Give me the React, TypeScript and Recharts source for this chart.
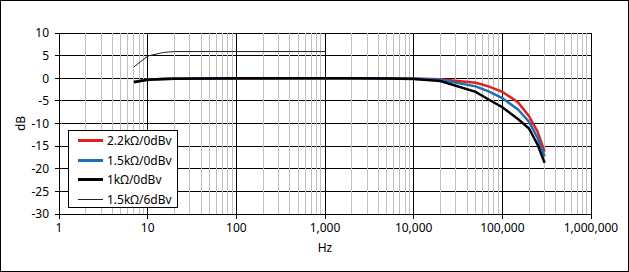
import { LineChart, Line, XAxis, YAxis, CartesianGrid, ReferenceLine, Legend } from "recharts";

const FREQS = [7, 10, 15, 20, 50, 100, 200, 500, 1000, 2000, 5000, 10000, 20000, 50000, 70000, 100000, 150000, 200000, 250000, 300000];

const R22K_0DB = [-0.8, -0.3, -0.15, -0.1, -0.05, -0.1, -0.1, 0, 0, 0, 0, -0.05, -0.2, -1.0, -1.8, -3.0, -5.3, -8.4, -11.8, -16.2];
const R15K_0DB = [-0.8, -0.3, -0.15, -0.1, -0.05, 0, 0, 0, 0, 0, -0.05, -0.1, -0.35, -1.8, -2.9, -4.4, -6.9, -9.6, -13.2, -17.3];
const R1K_0DB = [-0.9, -0.35, -0.15, -0.1, -0.05, 0, 0, 0, 0, 0, -0.05, -0.15, -0.6, -3.0, -4.7, -6.4, -9.0, -11.1, -14.7, -18.7];
const R15K_6DB = [2.5, 4.9, 5.7, 5.9, 5.9, 5.9, 5.9, 5.9, 5.9];

const X_TICKS = [1, 10, 100, 1000, 10000, 100000, 1000000];
const Y_TICKS = [-30, -25, -20, -15, -10, -5, 0, 5, 10];

const SERIES = [
  { key: "r22", name: "2.2kΩ/0dBv", color: "#e0201e", width: 2.5 },
  { key: "r15", name: "1.5kΩ/0dBv", color: "#1f6fb4", width: 2.5 },
  { key: "r1", name: "1kΩ/0dBv", color: "#000000", width: 2.5 },
  { key: "r15six", name: "1.5kΩ/6dBv", color: "#222222", width: 1 },
];

const data = FREQS.map((f, i) => ({
  f,
  r22: R22K_0DB[i],
  r15: R15K_0DB[i],
  r1: R1K_0DB[i],
  r15six: R15K_6DB[i],
}));

// minor grid lines, 2..9 in every decade
const minorTicks: number[] = [];
X_TICKS.slice(0, -1).forEach((d) => {
  for (let k = 2; k <= 9; k++) minorTicks.push(d * k);
});

const FONT = "'Noto Sans', sans-serif";

const LegendBox = () => (
  <div
    style={{
      width: 108,
      height: 76,
      border: "1px solid #000",
      background: "#fff",
      fontFamily: FONT,
      fontSize: 12,
      color: "#000",
    }}
  >
    {SERIES.map((s) => (
      <div key={s.key} style={{ height: 19.5, display: "flex", alignItems: "center" }}>
        <div style={{ marginLeft: 9, width: 25, height: s.width > 1 ? 3 : 1, background: s.color }} />
        <span style={{ marginLeft: 4, lineHeight: "19.5px" }}>{s.name}</span>
      </div>
    ))}
  </div>
);

const DbLabel = (props: any) => {
  const vb = props.viewBox;
  const x = 20;
  const y = vb.y + vb.height / 2;
  return (
    <text x={x} y={y} transform={`rotate(-90, ${x}, ${y})`} textAnchor="middle" dominantBaseline="central" fontSize={12} fill="#000">
      dB
    </text>
  );
};

export default function App() {
  return (
    <div style={{ position: "absolute", left: 0, top: 0, width: 629, height: 272, background: "#fff" }}>
      <LineChart
        width={629}
        height={272}
        data={data}
        margin={{ top: 33, right: 38, bottom: 14, left: 0 }}
        style={{ fontFamily: FONT }}
      >
        {minorTicks.map((v) => (
          <ReferenceLine key={v} x={v} stroke="#c0c0c0" strokeWidth={1} shapeRendering="crispEdges" />
        ))}
        <CartesianGrid stroke="#000" strokeWidth={1} shapeRendering="crispEdges" />
        <XAxis
          dataKey="f"
          type="number"
          scale="log"
          domain={[1, 1000000]}
          ticks={X_TICKS}
          tickFormatter={(v: number) => v.toLocaleString("en-US")}
          height={44}
          tickSize={5}
          tickMargin={4}
          axisLine={{ stroke: "#000", shapeRendering: "crispEdges" }}
          tickLine={{ stroke: "#000", shapeRendering: "crispEdges" }}
          tick={{ fill: "#000", fontSize: 12 }}
          label={{ value: "Hz", position: "insideBottom", offset: 6, fill: "#000", fontSize: 12 }}
          allowDataOverflow
        />
        <YAxis
          type="number"
          domain={[-30, 10]}
          ticks={Y_TICKS}
          tickCount={9}
          interval={0}
          width={59}
          tickSize={4}
          tickMargin={6}
          axisLine={{ stroke: "#000", shapeRendering: "crispEdges" }}
          tickLine={{ stroke: "#000", shapeRendering: "crispEdges" }}
          tick={{ fill: "#000", fontSize: 12 }}
          label={<DbLabel />}
        />
        {SERIES.map((s) => (
          <Line
            key={s.key}
            dataKey={s.key}
            name={s.name}
            stroke={s.color}
            strokeWidth={s.width}
            dot={false}
            isAnimationActive={false}
          />
        ))}
        <Legend
          layout="vertical"
          align="center"
          verticalAlign="middle"
          content={<LegendBox />}
          wrapperStyle={{ left: 68, top: 130, width: 110, height: 78 }}
        />
      </LineChart>
      <div
        style={{
          position: "absolute",
          left: 0,
          top: 0,
          width: 629,
          height: 272,
          boxSizing: "border-box",
          border: "1px solid #000",
          pointerEvents: "none",
        }}
      />
    </div>
  );
}
